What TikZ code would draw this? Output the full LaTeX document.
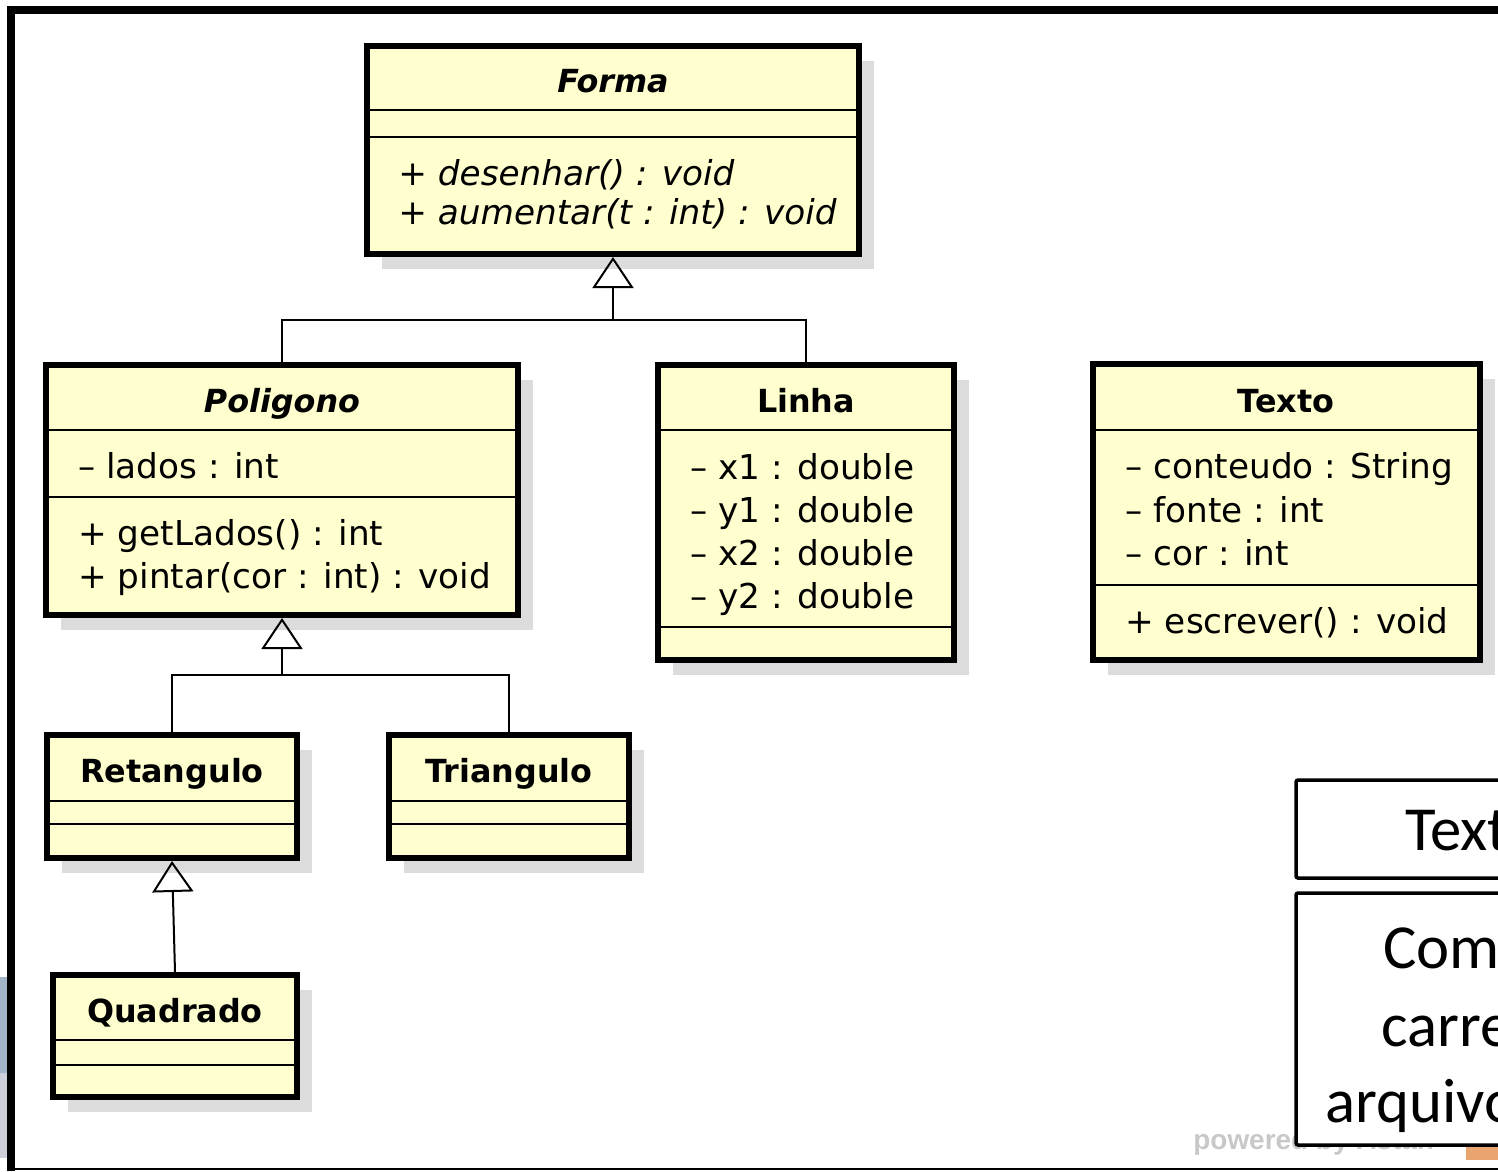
\documentclass[tikz,border=0pt]{standalone}
\usepackage{fontspec}
\setmainfont{DejaVu Sans}
\newfontfamily\panelfont{Carlito}
\newfontfamily\markfont{Liberation Sans}
\usetikzlibrary{arrows.meta,fit,shadows}
\definecolor{umlfill}{HTML}{FEFECE}
\definecolor{umlshadow}{HTML}{DCDCDC}
\definecolor{markgray}{HTML}{C8C8C8}
\definecolor{markorange}{HTML}{E9A46F}
\definecolor{edgeblue}{HTML}{A3B5C8}
\definecolor{edgegray}{HTML}{CDD0D8}

\begin{document}
\begin{tikzpicture}[x=0.02cm, y=-0.02cm,
  classbox/.style={draw=black, line width=0.12cm, fill=umlfill, inner sep=0pt,
    drop shadow={shadow xshift=0.3cm, shadow yshift=-0.3cm, fill=umlshadow, opacity=1}},
  sep/.style={draw=black, line width=0.04cm},
  conn/.style={draw=black, line width=0.04cm},
  gen/.style={conn, -{Triangle[open, length=0.62cm, width=0.82cm]}},
  member/.style={font=\fontsize{19.5}{23}\selectfont, anchor=base west, inner sep=0pt},
  absmember/.style={member, font=\itshape\fontsize{19.5}{23}\selectfont},
  title/.style={font=\bfseries\fontsize{18.1}{22}\selectfont, anchor=base, inner sep=0pt},
  abstitle/.style={font=\bfseries\itshape\fontsize{18.1}{22}\selectfont, anchor=base, inner sep=0pt},
  panelbox/.style={draw=black, line width=0.07cm, fill=white, inner sep=0pt, rounded corners=0.04cm},
  paneltext/.style={font=\panelfont\fontsize{35.7}{40}\selectfont, anchor=base west, inner sep=0pt},
  marktext/.style={font=\markfont\bfseries\fontsize{15.9}{18}\selectfont, text=markgray, anchor=base west, inner sep=0pt}
]
\useasboundingbox (0,0) rectangle (1498,1171);
\clip (0,0) rectangle (1498,1171);

% slide frame
\fill[black] (7,6) rectangle (1498,14);
\fill[black] (7,6) rectangle (15,1171);
\draw[black, line width=0.04cm] (15,1168.5) -- (1498,1168.5);
\fill[edgeblue] (0,977) rectangle (7,1073);
\fill[edgegray] (0,1073) rectangle (7,1158);

% class boxes
\node (forma)     [classbox, fit={(367,46) (859,254)}] {};
\node (poligono)  [classbox, fit={(46,365) (518,615)}] {};
\node (linha)     [classbox, fit={(658,365) (954,660)}] {};
\node (texto)     [classbox, fit={(1093,364) (1480,660)}] {};
\node (retangulo) [classbox, fit={(47,735) (297,858)}] {};
\node (triangulo) [classbox, fit={(389,735) (629,858)}] {};
\node (quadrado)  [classbox, fit={(53,975) (297,1097)}] {};

% compartment separators
\foreach \n/\ya/\yb in {forma/110/137, poligono/430/497, linha/430/627, texto/430/585,
                        retangulo/801/824, triangulo/801/824, quadrado/1040/1065} {
  \draw[sep] (\n.west |- 0,\ya) -- (\n.east |- 0,\ya);
  \draw[sep] (\n.west |- 0,\yb) -- (\n.east |- 0,\yb);
}

% Forma
\node (formaT)  [abstitle] at (613,92) {Forma};
\node (formaM1) [absmember] at (398,185) {+ desenhar() : void};
\node (formaM2) [absmember] at (398,224) {+ aumentar(t : int) : void};

% Poligono
\node (poligonoT)  [abstitle] at (282,412) {Poligono};
\node (poligonoA1) [member] at (78,478) {– lados : int};
\node (poligonoM1) [member] at (78,545) {+ getLados() : int};
\node (poligonoM2) [member] at (78,588) {+ pintar(cor : int) : void};

% Linha
\node (linhaT)  [title] at (806,412) {Linha};
\node (linhaA1) [member] at (690,479) {– x1 : double};
\node (linhaA2) [member] at (690,522) {– y1 : double};
\node (linhaA3) [member] at (690,565) {– x2 : double};
\node (linhaA4) [member] at (690,608) {– y2 : double};

% Texto
\node (textoT)  [title] at (1286,412) {Texto};
\node (textoA1) [member] at (1125,478) {– conteudo : String};
\node (textoA2) [member] at (1125,522) {– fonte : int};
\node (textoA3) [member] at (1125,565) {– cor : int};
\node (textoM1) [member] at (1125,633) {+ escrever() : void};

% leaf classes
\node (retanguloT) [title] at (172,782) {Retangulo};
\node (trianguloT) [title] at (509,782) {Triangulo};
\node (quadradoT)  [title] at (175,1022) {Quadrado};

% generalizations
\coordinate (j1) at (forma.south |- 0,320);
\coordinate (j2) at (poligono.south |- 0,675);
\draw[conn] (poligono.north) |- (j1) -| (linha.north);
\draw[gen] (j1) -- (forma.south);
\draw[conn] (retangulo.north) |- (j2) -| (triangulo.north);
\draw[gen] (j2) -- (poligono.south);
\draw[gen] (quadrado.north) -- (retangulo.south);

% tool mark
\node (mark) [marktext] at (1193,1149) {powered by Astah};
\node (marklogo) [fill=markorange, inner sep=0pt, fit={(1466,1145) (1498,1160)}] {};

% side panel
\node (panelhead) [panelbox, fit={(1296,780) (1540,878)}] {};
\node (panelbody) [panelbox, fit={(1296,893) (1540,1145)}] {};
\node (headtext) [paneltext] at (1405,850) {Text};
\node (body1) [paneltext] at (1383,968) {Com};
\node (body2) [paneltext] at (1381,1046) {carre};
\node (body3) [paneltext] at (1325,1122) {arquivo};
\end{tikzpicture}
\end{document}
